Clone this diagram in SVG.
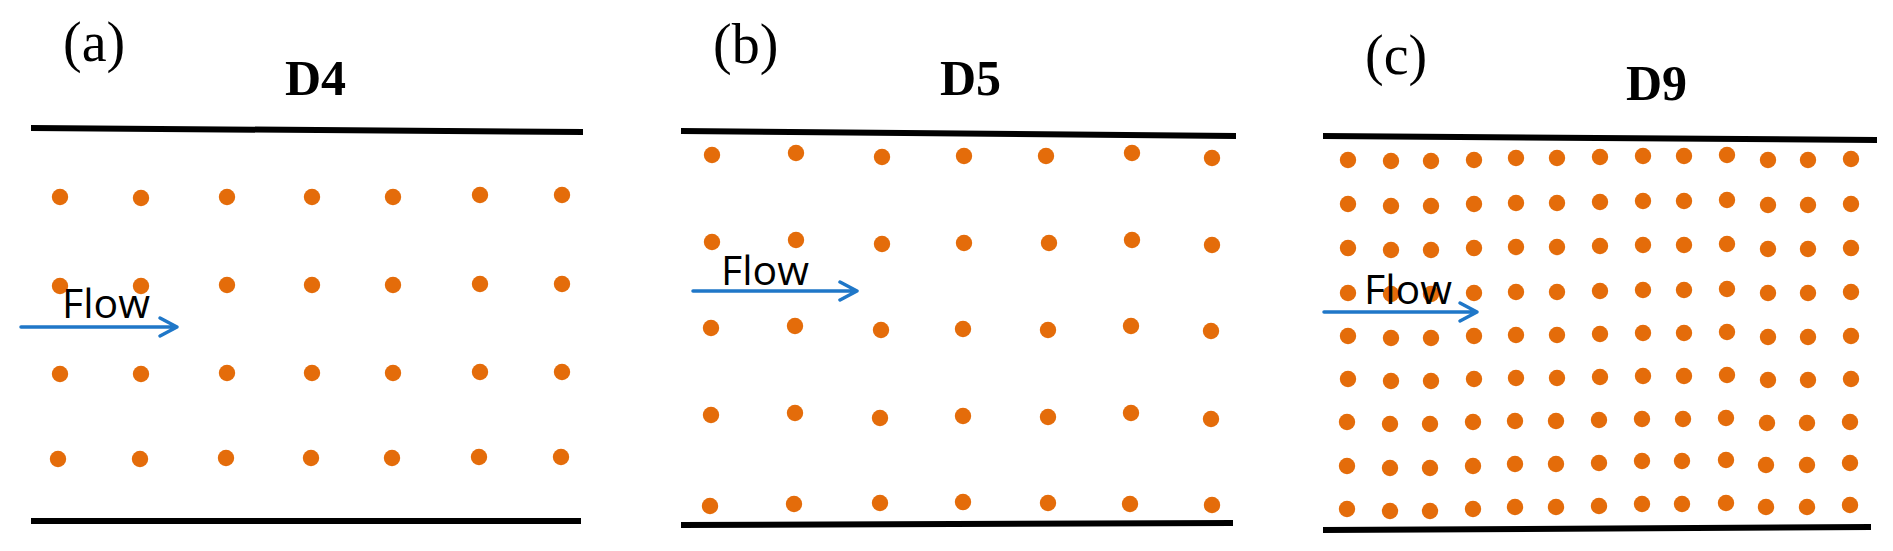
<svg xmlns="http://www.w3.org/2000/svg" width="1893" height="551" viewBox="0 0 1893 551">
  <style>
    .lbl { font-family: "Liberation Serif", "Times New Roman", serif; font-size: 56px; fill: #000; }
    .ttl { font-family: "Liberation Serif", "Times New Roman", serif; font-size: 50px; font-weight: bold; fill: #000; }
    .flow { font-family: "Open Sans", "Noto Sans", sans-serif; font-size: 41px; fill: #000; }
    .wall { stroke: #000; stroke-width: 6; fill: none; }
    .dot { fill: #E46C0A; }
    .arrow { stroke: #1F77C8; stroke-width: 3.5; fill: none; stroke-linecap: round; stroke-linejoin: round; }
  </style>
  <defs>
    <circle id="d" r="8.2" class="dot"/>
  </defs>
  <rect width="1893" height="551" fill="#fff"/>

  <g id="panel-a">
    <text class="lbl" x="63" y="61">(a)</text>
    <text class="ttl" x="285" y="95">D4</text>
    <line class="wall" x1="31" y1="128" x2="583" y2="132"/>
    <line class="wall" x1="31" y1="521" x2="581" y2="521"/>
    <g id="dots-a">
      <use href="#d" x="60" y="197"/><use href="#d" x="141" y="198"/><use href="#d" x="227" y="197"/><use href="#d" x="312" y="197"/><use href="#d" x="393" y="197"/><use href="#d" x="480" y="195"/><use href="#d" x="562" y="195"/>
      <use href="#d" x="60" y="286"/><use href="#d" x="141" y="286"/><use href="#d" x="227" y="285"/><use href="#d" x="312" y="285"/><use href="#d" x="393" y="285"/><use href="#d" x="480" y="284"/><use href="#d" x="562" y="284"/>
      <use href="#d" x="60" y="374"/><use href="#d" x="141" y="374"/><use href="#d" x="227" y="373"/><use href="#d" x="312" y="373"/><use href="#d" x="393" y="373"/><use href="#d" x="480" y="372"/><use href="#d" x="562" y="372"/>
      <use href="#d" x="58" y="459"/><use href="#d" x="140" y="459"/><use href="#d" x="226" y="458"/><use href="#d" x="311" y="458"/><use href="#d" x="392" y="458"/><use href="#d" x="479" y="457"/><use href="#d" x="561" y="457"/>
    </g>
    <text class="flow" x="62" y="318">Flow</text>
  </g>

  <g id="panel-b">
    <text class="lbl" x="713" y="63">(b)</text>
    <text class="ttl" x="940" y="95">D5</text>
    <line class="wall" x1="681" y1="131" x2="1236" y2="136"/>
    <line class="wall" x1="681" y1="525" x2="1233" y2="523"/>
    <g id="dots-b">
      <use href="#d" x="712" y="155"/><use href="#d" x="796" y="153"/><use href="#d" x="882" y="157"/><use href="#d" x="964" y="156"/><use href="#d" x="1046" y="156"/><use href="#d" x="1132" y="153"/><use href="#d" x="1212" y="158"/>
      <use href="#d" x="712" y="242"/><use href="#d" x="796" y="240"/><use href="#d" x="882" y="244"/><use href="#d" x="964" y="243"/><use href="#d" x="1049" y="243"/><use href="#d" x="1132" y="240"/><use href="#d" x="1212" y="245"/>
      <use href="#d" x="711" y="328"/><use href="#d" x="795" y="326"/><use href="#d" x="881" y="330"/><use href="#d" x="963" y="329"/><use href="#d" x="1048" y="330"/><use href="#d" x="1131" y="326"/><use href="#d" x="1211" y="331"/>
      <use href="#d" x="711" y="415"/><use href="#d" x="795" y="413"/><use href="#d" x="880" y="418"/><use href="#d" x="963" y="416"/><use href="#d" x="1048" y="417"/><use href="#d" x="1131" y="413"/><use href="#d" x="1211" y="419"/>
      <use href="#d" x="710" y="506"/><use href="#d" x="794" y="504"/><use href="#d" x="880" y="503"/><use href="#d" x="963" y="502"/><use href="#d" x="1048" y="503"/><use href="#d" x="1130" y="504"/><use href="#d" x="1212" y="505"/>
    </g>
    <text class="flow" x="721" y="285">Flow</text>
  </g>

  <g id="panel-c">
    <text class="lbl" x="1365" y="74">(c)</text>
    <text class="ttl" x="1626" y="100">D9</text>
    <line class="wall" x1="1323" y1="136" x2="1877" y2="140"/>
    <line class="wall" x1="1323" y1="530" x2="1871" y2="527"/>
    <g id="dots-c">
      <use href="#d" x="1348" y="160"/><use href="#d" x="1391" y="161"/><use href="#d" x="1431" y="161"/><use href="#d" x="1474" y="160"/><use href="#d" x="1516" y="158"/><use href="#d" x="1557" y="158"/><use href="#d" x="1600" y="157"/><use href="#d" x="1643" y="156"/><use href="#d" x="1684" y="156"/><use href="#d" x="1727" y="155"/><use href="#d" x="1768" y="160"/><use href="#d" x="1808" y="160"/><use href="#d" x="1851" y="159"/>
      <use href="#d" x="1348" y="204"/><use href="#d" x="1391" y="206"/><use href="#d" x="1431" y="206"/><use href="#d" x="1474" y="204"/><use href="#d" x="1516" y="203"/><use href="#d" x="1557" y="203"/><use href="#d" x="1600" y="202"/><use href="#d" x="1643" y="201"/><use href="#d" x="1684" y="201"/><use href="#d" x="1727" y="200"/><use href="#d" x="1768" y="205"/><use href="#d" x="1808" y="205"/><use href="#d" x="1851" y="204"/>
      <use href="#d" x="1348" y="248"/><use href="#d" x="1391" y="250"/><use href="#d" x="1431" y="250"/><use href="#d" x="1474" y="248"/><use href="#d" x="1516" y="247"/><use href="#d" x="1557" y="247"/><use href="#d" x="1600" y="246"/><use href="#d" x="1643" y="245"/><use href="#d" x="1684" y="245"/><use href="#d" x="1727" y="244"/><use href="#d" x="1768" y="249"/><use href="#d" x="1808" y="249"/><use href="#d" x="1851" y="248"/>
      <use href="#d" x="1348" y="293"/><use href="#d" x="1391" y="294"/><use href="#d" x="1431" y="294"/><use href="#d" x="1474" y="293"/><use href="#d" x="1516" y="292"/><use href="#d" x="1557" y="292"/><use href="#d" x="1600" y="291"/><use href="#d" x="1643" y="290"/><use href="#d" x="1684" y="290"/><use href="#d" x="1727" y="289"/><use href="#d" x="1768" y="293"/><use href="#d" x="1808" y="293"/><use href="#d" x="1851" y="292"/>
      <use href="#d" x="1348" y="336"/><use href="#d" x="1391" y="338"/><use href="#d" x="1431" y="338"/><use href="#d" x="1474" y="336"/><use href="#d" x="1516" y="335"/><use href="#d" x="1557" y="335"/><use href="#d" x="1600" y="334"/><use href="#d" x="1643" y="333"/><use href="#d" x="1684" y="333"/><use href="#d" x="1727" y="332"/><use href="#d" x="1768" y="337"/><use href="#d" x="1808" y="337"/><use href="#d" x="1851" y="336"/>
      <use href="#d" x="1348" y="379"/><use href="#d" x="1391" y="381"/><use href="#d" x="1431" y="381"/><use href="#d" x="1474" y="379"/><use href="#d" x="1516" y="378"/><use href="#d" x="1557" y="378"/><use href="#d" x="1600" y="377"/><use href="#d" x="1643" y="376"/><use href="#d" x="1684" y="376"/><use href="#d" x="1727" y="375"/><use href="#d" x="1768" y="380"/><use href="#d" x="1808" y="380"/><use href="#d" x="1851" y="379"/>
      <use href="#d" x="1347" y="422"/><use href="#d" x="1390" y="424"/><use href="#d" x="1430" y="424"/><use href="#d" x="1473" y="422"/><use href="#d" x="1515" y="421"/><use href="#d" x="1556" y="421"/><use href="#d" x="1599" y="420"/><use href="#d" x="1642" y="419"/><use href="#d" x="1683" y="419"/><use href="#d" x="1726" y="418"/><use href="#d" x="1767" y="423"/><use href="#d" x="1807" y="423"/><use href="#d" x="1850" y="422"/>
      <use href="#d" x="1347" y="466"/><use href="#d" x="1390" y="468"/><use href="#d" x="1430" y="468"/><use href="#d" x="1473" y="466"/><use href="#d" x="1515" y="464"/><use href="#d" x="1556" y="464"/><use href="#d" x="1599" y="463"/><use href="#d" x="1642" y="461"/><use href="#d" x="1682" y="461"/><use href="#d" x="1726" y="460"/><use href="#d" x="1766" y="465"/><use href="#d" x="1807" y="465"/><use href="#d" x="1850" y="463"/>
      <use href="#d" x="1347" y="509"/><use href="#d" x="1390" y="511"/><use href="#d" x="1430" y="511"/><use href="#d" x="1473" y="509"/><use href="#d" x="1515" y="507"/><use href="#d" x="1556" y="507"/><use href="#d" x="1599" y="506"/><use href="#d" x="1642" y="504"/><use href="#d" x="1682" y="504"/><use href="#d" x="1726" y="503"/><use href="#d" x="1766" y="507"/><use href="#d" x="1807" y="507"/><use href="#d" x="1850" y="505"/>
    </g>
    <text class="flow" x="1364" y="304">Flow</text>
  </g>

  <g id="connectors">
    <path class="arrow" d="M21,327 H177 M160,318 L177,327 L160,336"/>
    <path class="arrow" d="M693,291 H857 M840,282 L857,291 L840,300"/>
    <path class="arrow" d="M1324,312 H1477 M1460,303 L1477,312 L1460,321"/>
  </g>
</svg>
